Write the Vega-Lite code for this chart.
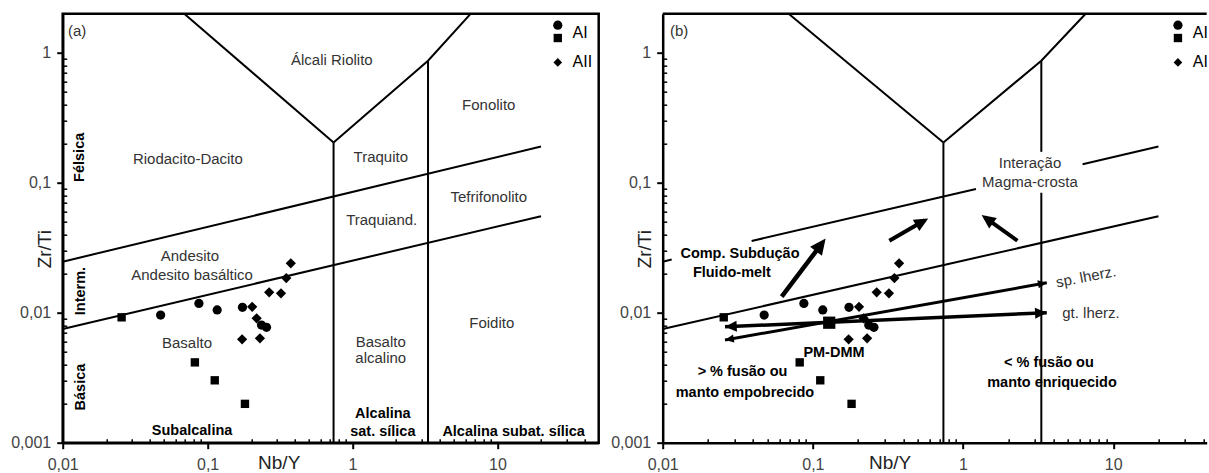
{
  "$schema": "https://vega.github.io/schema/vega-lite/v6.json",
  "background": "white",
  "padding": {"left": 8.7, "top": 7.7, "right": 0, "bottom": 0},
  "spacing": 64,
  "bounds": "flush",
  "config": {
    "view": {"stroke": null},
    "font": "Liberation Sans",
    "axis": {
      "grid": false,
      "domainColor": "black",
      "domainWidth": 2.5,
      "tickColor": "black",
      "labelFont": "Liberation Sans",
      "labelFontSize": 16,
      "labelColor": "#444444",
      "labelOverlap": false,
      "labelFlush": false,
      "titleFont": "Liberation Sans",
      "titleFontSize": 19,
      "titleFontWeight": "normal",
      "titleColor": "#222222"
    }
  },
  "datasets": {
    "pts": [
      {"x": 0.0255, "y": 0.00922, "g": "AI-s"},
      {"x": 0.0817, "y": 0.00415, "g": "AI-s"},
      {"x": 0.112, "y": 0.00302, "g": "AI-s"},
      {"x": 0.181, "y": 0.00199, "g": "AI-s"},
      {"x": 0.0474, "y": 0.0096, "g": "AI-c"},
      {"x": 0.0871, "y": 0.0118, "g": "AI-c"},
      {"x": 0.1164, "y": 0.0105, "g": "AI-c"},
      {"x": 0.174, "y": 0.011, "g": "AI-c"},
      {"x": 0.2355, "y": 0.00804, "g": "AI-c"},
      {"x": 0.255, "y": 0.00772, "g": "AI-c"},
      {"x": 0.375, "y": 0.024, "g": "AII"},
      {"x": 0.349, "y": 0.0185, "g": "AII"},
      {"x": 0.266, "y": 0.01436, "g": "AII"},
      {"x": 0.321, "y": 0.0141, "g": "AII"},
      {"x": 0.203, "y": 0.0111, "g": "AII"},
      {"x": 0.218, "y": 0.00906, "g": "AII"},
      {"x": 0.173, "y": 0.00624, "g": "AII"},
      {"x": 0.2297, "y": 0.00635, "g": "AII"}
    ],
    "pm": [{"x": 0.1285, "y": 0.00838, "g": "PM"}],
    "leg_a": [
      {"x": 26.1, "y": 1.633, "g": "AI-c"},
      {"x": 26.1, "y": 1.3, "g": "AI-s"},
      {"x": 26.1, "y": 0.844, "g": "AII"}
    ],
    "leg_b": [
      {"x": 26.97, "y": 1.633, "g": "AI-c"},
      {"x": 26.97, "y": 1.3, "g": "AI-s"},
      {"x": 26.97, "y": 0.844, "g": "AII"}
    ],
    "legt_a": [
      {"x": 33.0, "y": 1.425, "t": "AI"},
      {"x": 33.0, "y": 0.848, "t": "AII"}
    ],
    "legt_b": [
      {"x": 33.9, "y": 1.425, "t": "AI"},
      {"x": 33.9, "y": 0.848, "t": "AII"}
    ],
    "bnd_a": [
      {"s": "up", "o": 0, "x": 0.01, "y": 0.0247},
      {"s": "up", "o": 1, "x": 20, "y": 0.19},
      {"s": "lo", "o": 0, "x": 0.01, "y": 0.0075},
      {"s": "lo", "o": 1, "x": 20, "y": 0.0553},
      {"s": "v1", "o": 0, "x": 0.74, "y": 0.001},
      {"s": "v1", "o": 1, "x": 0.74, "y": 0.204},
      {"s": "v2", "o": 0, "x": 3.32, "y": 0.001},
      {"s": "v2", "o": 1, "x": 3.32, "y": 0.87},
      {"s": "vl", "o": 0, "x": 0.069, "y": 2},
      {"s": "vl", "o": 1, "x": 0.74, "y": 0.204},
      {"s": "vr", "o": 0, "x": 0.74, "y": 0.204},
      {"s": "vr", "o": 1, "x": 3.32, "y": 0.87},
      {"s": "vr", "o": 2, "x": 6.55, "y": 2}
    ],
    "bnd_b": [
      {"s": "up1", "o": 0, "x": 0.01, "y": 0.0247},
      {"s": "up1", "o": 1, "x": 0.01148, "y": 0.02566},
      {"s": "up2", "o": 0, "x": 0.0391, "y": 0.03565},
      {"s": "up2", "o": 1, "x": 1.219, "y": 0.0897},
      {"s": "up3", "o": 0, "x": 6.25, "y": 0.139},
      {"s": "up3", "o": 1, "x": 20, "y": 0.19},
      {"s": "lo", "o": 0, "x": 0.01, "y": 0.0075},
      {"s": "lo", "o": 1, "x": 20, "y": 0.0553},
      {"s": "v1", "o": 0, "x": 0.74, "y": 0.001},
      {"s": "v1", "o": 1, "x": 0.74, "y": 0.204},
      {"s": "v2a", "o": 0, "x": 3.32, "y": 0.001},
      {"s": "v2a", "o": 1, "x": 3.32, "y": 0.0838},
      {"s": "v2b", "o": 0, "x": 3.32, "y": 0.173},
      {"s": "v2b", "o": 1, "x": 3.32, "y": 0.87},
      {"s": "vl", "o": 0, "x": 0.069, "y": 2},
      {"s": "vl", "o": 1, "x": 0.74, "y": 0.204},
      {"s": "vr", "o": 0, "x": 0.74, "y": 0.204},
      {"s": "vr", "o": 1, "x": 3.32, "y": 0.87},
      {"s": "vr", "o": 2, "x": 6.55, "y": 2}
    ],
    "lab_a": [
      {"x": 0.01256, "y": 1.47, "t": "(a)"},
      {"x": 0.72, "y": 0.879, "t": "Álcali Riolito"},
      {"x": 0.0731, "y": 0.152, "t": "Riodacito-Dacito"},
      {"x": 1.567, "y": 0.158, "t": "Traquito"},
      {"x": 8.71, "y": 0.396, "t": "Fonolito"},
      {"x": 8.71, "y": 0.0776, "t": "Tefrifonolito"},
      {"x": 1.59, "y": 0.0517, "t": "Traquiand."},
      {"x": 0.0755, "y": 0.0273, "t": "Andesito"},
      {"x": 0.0781, "y": 0.0195, "t": "Andesito basáltico"},
      {"x": 0.0721, "y": 0.00585, "t": "Basalto"},
      {"x": 1.567, "y": 0.00595, "t": "Basalto"},
      {"x": 1.567, "y": 0.00449, "t": "alcalino"},
      {"x": 9.14, "y": 0.00834, "t": "Foidito"}
    ],
    "bold_a": [
      {"x": 0.0781, "y": 0.00123, "t": "Subalcalina"},
      {"x": 1.62, "y": 0.001663, "t": "Alcalina"},
      {"x": 1.62, "y": 0.001216, "t": "sat. sílica"},
      {"x": 12.94, "y": 0.001216, "t": "Alcalina subat. sílica"}
    ],
    "rot_a": [
      {"x": 0.01315, "y": 0.157, "t": "Félsica"},
      {"x": 0.01336, "y": 0.01468, "t": "Interm."},
      {"x": 0.01336, "y": 0.00268, "t": "Básica"}
    ],
    "lab_b": [
      {"x": 0.01285, "y": 1.47, "t": "(b)"},
      {"x": 2.79, "y": 0.1417, "t": "Interação"},
      {"x": 2.79, "y": 0.1018, "t": "Magma-crosta"},
      {"x": 7.11, "y": 0.00989, "t": "gt. lherz."}
    ],
    "sp_b": [
      {"x": 6.58, "y": 0.0189, "t": "sp. lherz."}
    ],
    "bold_b": [
      {"x": 0.0327, "y": 0.0283, "t": "Comp. Subdução"},
      {"x": 0.0289, "y": 0.0201, "t": "Fluido-melt"},
      {"x": 0.1382, "y": 0.00487, "t": "PM-DMM"},
      {"x": 0.034, "y": 0.00348, "t": "> % fusão ou"},
      {"x": 0.0353, "y": 0.00243, "t": "manto empobrecido"},
      {"x": 3.73, "y": 0.00408, "t": "< % fusão ou"},
      {"x": 3.91, "y": 0.00286, "t": "manto enriquecido"}
    ],
    "arr": [
      {"a": "A1", "w": "bold", "o": 0, "x": 0.062, "y": 0.0133},
      {"a": "A1", "w": "bold", "o": 1, "x": 0.113, "y": 0.0333},
      {"a": "A2", "w": "med", "o": 0, "x": 0.323, "y": 0.0358},
      {"a": "A2", "w": "med", "o": 1, "x": 0.556, "y": 0.0514},
      {"a": "A3", "w": "med", "o": 0, "x": 2.3, "y": 0.0358},
      {"a": "A3", "w": "med", "o": 1, "x": 1.397, "y": 0.0542},
      {"a": "A4", "w": "thick", "o": 0, "x": 0.026, "y": 0.0078},
      {"a": "A4", "w": "thick", "o": 1, "x": 3.61, "y": 0.01},
      {"a": "A5", "w": "thin", "o": 0, "x": 0.026, "y": 0.00617},
      {"a": "A5", "w": "thin", "o": 1, "x": 3.61, "y": 0.017}
    ],
    "hd": [
      {"x": 0.1216, "y": 0.0373, "ang": 37, "w": "bold"},
      {"x": 0.586, "y": 0.0532, "ang": 60, "w": "med"},
      {"x": 1.33, "y": 0.0565, "ang": 306, "w": "med"},
      {"x": 3.61, "y": 0.01, "ang": 87.5, "w": "thick"},
      {"x": 0.026, "y": 0.0078, "ang": 267.5, "w": "thick"},
      {"x": 3.61, "y": 0.017, "ang": 80, "w": "thin"},
      {"x": 0.026, "y": 0.00617, "ang": 260, "w": "thin"}
    ],
    "top_b": [{"x": 0.01, "x2": 41.9, "y": 2}]
  },
  "hconcat": [
    {
      "width": 536,
      "height": 429,
      "view": {"stroke": "black", "strokeWidth": 2.5},
      "encoding": {
        "x": {
          "field": "x", "type": "quantitative",
          "scale": {"type": "log", "domain": [0.01, 50], "nice": false},
          "axis": {
            "title": "Nb/Y", "titleX": 216, "titleY": 26, "titleAlign": "center", "titleBaseline": "alphabetic",
            "values": [0.01,0.02,0.03,0.04,0.05,0.06,0.07,0.08,0.09,0.1,0.2,0.3,0.4,0.5,0.6,0.7,0.8,0.9,1,2,3,4,5,6,7,8,9,10,20,30,40],
            "labelExpr": "datum.value==0.01?'0,01':datum.value==0.1?'0,1':datum.value==1?'1':datum.value==10?'10':''",
            "labelPadding": 8,
            "tickSize": {"condition": {"test": "datum.value==0.01||datum.value==0.1||datum.value==1||datum.value==10", "value": 6}, "value": -4},
            "tickWidth": {"condition": {"test": "datum.value==0.01||datum.value==0.1||datum.value==1||datum.value==10", "value": 2}, "value": 1.5}
          }
        },
        "y": {
          "field": "y", "type": "quantitative",
          "scale": {"type": "log", "domain": [0.001, 2], "nice": false},
          "axis": {
            "title": "Zr/Ti", "titleAngle": 270, "titleX": -18, "titleY": 235, "titleAlign": "center", "titleBaseline": "middle",
            "values": [0.001,0.002,0.003,0.004,0.005,0.006,0.007,0.008,0.009,0.01,0.02,0.03,0.04,0.05,0.06,0.07,0.08,0.09,0.1,0.2,0.3,0.4,0.5,0.6,0.7,0.8,0.9,1],
            "labelExpr": "datum.value==0.001?'0,001':datum.value==0.01?'0,01':datum.value==0.1?'0,1':datum.value==1?'1':''",
            "labelPadding": 6,
            "tickSize": {"condition": {"test": "datum.value==0.001||datum.value==0.01||datum.value==0.1||datum.value==1", "value": 6}, "value": -4},
            "tickWidth": {"condition": {"test": "datum.value==0.001||datum.value==0.01||datum.value==0.1||datum.value==1", "value": 2}, "value": 1.5}
          }
        }
      },
      "layer": [
        {"data": {"name": "bnd_a"}, "mark": {"type": "line", "color": "black", "strokeWidth": 2},
         "encoding": {"detail": {"field": "s"}, "order": {"field": "o", "type": "quantitative"}}},
        {"data": {"name": "pts"}, "transform": [{"filter": "datum.g == 'AI-c'"}],
         "mark": {"type": "point", "filled": true, "color": "black", "opacity": 1, "shape": "circle", "size": 85}},
        {"data": {"name": "pts"}, "transform": [{"filter": "datum.g == 'AI-s'"}],
         "mark": {"type": "point", "filled": true, "color": "black", "opacity": 1, "shape": "square", "size": 70}},
        {"data": {"name": "pts"}, "transform": [{"filter": "datum.g == 'AII'"}],
         "mark": {"type": "point", "filled": true, "color": "black", "opacity": 1, "shape": "diamond", "size": 105}},
        {"data": {"name": "leg_a"}, "transform": [{"filter": "datum.g == 'AI-c'"}],
         "mark": {"type": "point", "filled": true, "color": "black", "opacity": 1, "shape": "circle", "size": 85}},
        {"data": {"name": "leg_a"}, "transform": [{"filter": "datum.g == 'AI-s'"}],
         "mark": {"type": "point", "filled": true, "color": "black", "opacity": 1, "shape": "square", "size": 70}},
        {"data": {"name": "leg_a"}, "transform": [{"filter": "datum.g == 'AII'"}],
         "mark": {"type": "point", "filled": true, "color": "black", "opacity": 1, "shape": "diamond", "size": 75}},
        {"data": {"name": "lab_a"}, "mark": {"type": "text", "fontSize": 15, "color": "#333333"},
         "encoding": {"text": {"field": "t"}}},
        {"data": {"name": "bold_a"}, "mark": {"type": "text", "fontSize": 14.5, "fontWeight": "bold", "color": "black"},
         "encoding": {"text": {"field": "t"}}},
        {"data": {"name": "rot_a"}, "mark": {"type": "text", "fontSize": 14.5, "fontWeight": "bold", "color": "black", "angle": 270},
         "encoding": {"text": {"field": "t"}}},
        {"data": {"name": "legt_a"}, "mark": {"type": "text", "align": "left", "fontSize": 16, "color": "black"},
         "encoding": {"text": {"field": "t"}}}
      ]
    },
    {
      "width": 544,
      "height": 429,
      "encoding": {
        "x": {
          "field": "x", "type": "quantitative",
          "scale": {"type": "log", "domain": [0.01, 41.9], "nice": false},
          "axis": {
            "title": "Nb/Y", "titleX": 227, "titleY": 26, "titleAlign": "center", "titleBaseline": "alphabetic",
            "values": [0.01,0.02,0.03,0.04,0.05,0.06,0.07,0.08,0.09,0.1,0.2,0.3,0.4,0.5,0.6,0.7,0.8,0.9,1,2,3,4,5,6,7,8,9,10,20,30,40],
            "labelExpr": "datum.value==0.01?'0,01':datum.value==0.1?'0,1':datum.value==1?'1':datum.value==10?'10':''",
            "labelPadding": 8,
            "tickSize": {"condition": {"test": "datum.value==0.01||datum.value==0.1||datum.value==1||datum.value==10", "value": 6}, "value": -4},
            "tickWidth": {"condition": {"test": "datum.value==0.01||datum.value==0.1||datum.value==1||datum.value==10", "value": 2}, "value": 1.5}
          }
        },
        "y": {
          "field": "y", "type": "quantitative",
          "scale": {"type": "log", "domain": [0.001, 2], "nice": false},
          "axis": {
            "title": "Zr/Ti", "titleAngle": 270, "titleX": -18, "titleY": 235, "titleAlign": "center", "titleBaseline": "middle",
            "values": [0.001,0.002,0.003,0.004,0.005,0.006,0.007,0.008,0.009,0.01,0.02,0.03,0.04,0.05,0.06,0.07,0.08,0.09,0.1,0.2,0.3,0.4,0.5,0.6,0.7,0.8,0.9,1],
            "labelExpr": "datum.value==0.001?'0,001':datum.value==0.01?'0,01':datum.value==0.1?'0,1':datum.value==1?'1':''",
            "labelPadding": 6,
            "tickSize": {"condition": {"test": "datum.value==0.001||datum.value==0.01||datum.value==0.1||datum.value==1", "value": 6}, "value": -4},
            "tickWidth": {"condition": {"test": "datum.value==0.001||datum.value==0.01||datum.value==0.1||datum.value==1", "value": 2}, "value": 1.5}
          }
        }
      },
      "layer": [
        {"data": {"name": "top_b"}, "mark": {"type": "rule", "color": "black", "strokeWidth": 2.5},
         "encoding": {"x2": {"field": "x2"}}},
        {"data": {"name": "bnd_b"}, "mark": {"type": "line", "color": "black", "strokeWidth": 2},
         "encoding": {"detail": {"field": "s"}, "order": {"field": "o", "type": "quantitative"}}},
        {"data": {"name": "arr"}, "mark": {"type": "line", "color": "black"},
         "encoding": {
           "detail": {"field": "a"},
           "order": {"field": "o", "type": "quantitative"},
           "strokeWidth": {"field": "w", "scale": {"domain": ["bold","med","thick","thin"], "range": [4.5, 3, 3, 1.5]}, "legend": null}}},
        {"data": {"name": "hd"}, "mark": {"type": "point", "filled": true, "color": "black", "opacity": 1, "shape": "M0,0L-0.65,1.4L0.65,1.4Z"},
         "encoding": {
           "angle": {"field": "ang", "type": "quantitative", "scale": null},
           "size": {"field": "w", "scale": {"domain": ["bold","med","thick","thin"], "range": [520, 160, 100, 90]}, "legend": null}}},
        {"data": {"name": "pts"}, "transform": [{"filter": "datum.g == 'AI-c'"}],
         "mark": {"type": "point", "filled": true, "color": "black", "opacity": 1, "shape": "circle", "size": 85}},
        {"data": {"name": "pts"}, "transform": [{"filter": "datum.g == 'AI-s'"}],
         "mark": {"type": "point", "filled": true, "color": "black", "opacity": 1, "shape": "square", "size": 70}},
        {"data": {"name": "pts"}, "transform": [{"filter": "datum.g == 'AII'"}],
         "mark": {"type": "point", "filled": true, "color": "black", "opacity": 1, "shape": "diamond", "size": 105}},
        {"data": {"name": "pm"}, "mark": {"type": "point", "filled": true, "color": "black", "opacity": 1, "shape": "square", "size": 150}},
        {"data": {"name": "leg_b"}, "transform": [{"filter": "datum.g == 'AI-c'"}],
         "mark": {"type": "point", "filled": true, "color": "black", "opacity": 1, "shape": "circle", "size": 85}},
        {"data": {"name": "leg_b"}, "transform": [{"filter": "datum.g == 'AI-s'"}],
         "mark": {"type": "point", "filled": true, "color": "black", "opacity": 1, "shape": "square", "size": 70}},
        {"data": {"name": "leg_b"}, "transform": [{"filter": "datum.g == 'AII'"}],
         "mark": {"type": "point", "filled": true, "color": "black", "opacity": 1, "shape": "diamond", "size": 75}},
        {"data": {"name": "lab_b"}, "mark": {"type": "text", "fontSize": 15, "color": "#333333"},
         "encoding": {"text": {"field": "t"}}},
        {"data": {"name": "sp_b"}, "mark": {"type": "text", "fontSize": 15, "color": "#333333", "angle": -11},
         "encoding": {"text": {"field": "t"}}},
        {"data": {"name": "bold_b"}, "mark": {"type": "text", "fontSize": 14.5, "fontWeight": "bold", "color": "black"},
         "encoding": {"text": {"field": "t"}}},
        {"data": {"name": "legt_b"}, "mark": {"type": "text", "align": "left", "fontSize": 16, "color": "black", "limit": 15.6, "ellipsis": "\u200b"},
         "encoding": {"text": {"field": "t"}}}
      ],
      "resolve": {"scale": {"size": "independent"}}
    }
  ]
}
